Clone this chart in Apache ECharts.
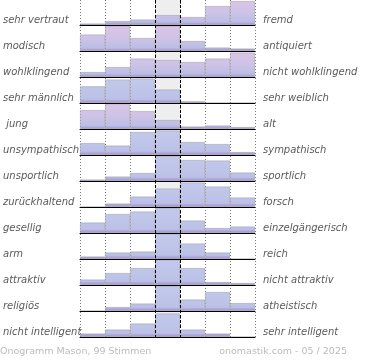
<!DOCTYPE html>
<html><head><meta charset="utf-8">
<script src="https://cdn.jsdelivr.net/npm/echarts@6/dist/echarts.min.js"></script>
<style>html,body{margin:0;padding:0;background:#fff}#c{width:370px;height:360px}</style>
</head><body><div id="c"></div>
<script>
const columns = ['1', '2', '3', '4', '5', '6', '7'];
const leftLabels = ['sehr vertraut', 'modisch', 'wohlklingend', 'sehr männlich', ' jung', 'unsympathisch', 'unsportlich', 'zurückhaltend', 'gesellig', 'arm', 'attraktiv', 'religiös', 'nicht intelligent'];
const rightLabels = ['fremd', 'antiquiert', 'nicht wohlklingend', 'sehr weiblich', 'alt', 'sympathisch', 'sportlich', 'forsch', 'einzelgängerisch', 'reich', 'nicht attraktiv', 'atheistisch', 'sehr intelligent'];

const vertraut     = [1.5, 4, 5.5, 10, 8, 19, 24];
const modisch      = [16.5, 25.5, 13, 25.5, 10, 3.5, 2.5];
const wohlklingend = [5, 10, 18.5, 17, 15, 18.5, 24.5];
const maennlich    = [16.7, 23.5, 24.5, 13.5, 1.7, 0, 0];
const jung         = [19, 25, 18, 9, 2.5, 3.5, 2];
const unsympathisch= [12, 9.5, 23, 24.5, 13, 11, 3];
const unsportlich  = [1.5, 4.5, 8, 25, 21, 20.5, 8.5];
const zurueck      = [0, 3.5, 10.5, 18.5, 24.5, 20.5, 9.5];
const gesellig     = [10.5, 19, 21.5, 25, 12.5, 5, 6.5];
const arm          = [2.5, 6.5, 7.5, 25, 15.5, 6.5, 0];
const attraktiv    = [5.5, 12, 17, 25, 17, 3, 2];
const religioes    = [0, 4, 7.5, 25, 11.5, 19, 8];
const intelligent  = [3.5, 7.5, 13.5, 23.5, 7.5, 3.5, 0];

const rows = [vertraut, modisch, wohlklingend, maennlich, jung, unsympathisch, unsportlich, zurueck, gesellig, arm, attraktiv, religioes, intelligent];
const pinkRows = [0, 1, 2, 4];

const ROW_H = 26, LEFT = 80, W = 175;
const FONT = 'DejaVu Sans';

const grids = [], xAxes = [], yAxes = [], series = [];
rows.forEach((vals, i) => {
  const top = ROW_H * i;
  grids.push({ left: LEFT, width: W, top: top, height: 25 });
  xAxes.push({
    type: 'category', gridIndex: i, data: columns, boundaryGap: true, z: 4,
    axisLine: { show: true, lineStyle: { color: '#000', width: 1 } },
    axisTick: { show: false }, axisLabel: { show: false }, splitLine: { show: false }
  });
  yAxes.push({ type: 'value', gridIndex: i, min: 0, max: 25, show: false, splitLine: { show: false } });
  const pink = pinkRows.includes(i);
  const stops = pink
    ? [{ offset: 0, color: '#dcc4e6' }, { offset: 0.5, color: '#cdc3e7' }, { offset: 0.88, color: '#bbbde5' }, { offset: 1, color: '#9d8cc9' }]
    : [{ offset: 0, color: '#c3caec' }, { offset: 0.85, color: '#bcc0e7' }, { offset: 1, color: '#9d8cc9' }];
  series.push({
    type: 'bar', xAxisIndex: i, yAxisIndex: i, data: vals, barCategoryGap: '0%', z: 2,
    itemStyle: {
      color: new echarts.graphic.LinearGradient(0, top, 0, top + 25, stops, true),
      borderColor: 'rgba(140,140,140,0.6)', borderWidth: 0.7
    },
    silent: true, animation: false
  });
});

// background grid: dotted lines, gray middle band, dashed lines
const bg = rows.length;
grids.push({ left: LEFT, width: W, top: 0, height: ROW_H * rows.length });
const transparent = 'rgba(0,0,0,0)';
xAxes.push({
  type: 'value', gridIndex: bg, min: 0, max: columns.length, interval: 1, z: 0,
  axisLine: { show: false }, axisTick: { show: false }, axisLabel: { show: false },
  splitLine: { show: true, lineStyle: { color: '#777', width: 1, type: [1, 2] } },
  splitArea: { show: true, areaStyle: { color: [transparent, transparent, transparent, '#eeeeee', transparent, transparent, transparent] } }
});
xAxes.push({
  type: 'value', gridIndex: bg, min: 0, max: columns.length, interval: 1, z: 6, position: 'top',
  axisLine: { show: false }, axisTick: { show: false }, axisLabel: { show: false },
  splitLine: { show: true, lineStyle: { color: [transparent, transparent, transparent, '#000', '#000', transparent, transparent, transparent], width: 1, type: [3, 2] } }
});
yAxes.push({ type: 'value', gridIndex: bg, min: 0, max: 1, show: false });

// label grid
const lg = rows.length + 1;
grids.push({ left: LEFT, width: W, top: 7.5, height: ROW_H * rows.length });
xAxes.push({ type: 'value', gridIndex: lg, show: false });
const labelStyle = { fontFamily: FONT, fontSize: 10, fontStyle: 'italic', color: '#5a5a5a' };
yAxes.push({
  type: 'category', gridIndex: lg, data: leftLabels, inverse: true, position: 'left',
  axisLine: { show: false }, axisTick: { show: false }, splitLine: { show: false },
  axisLabel: Object.assign({ align: 'left', margin: LEFT, interval: 0 }, labelStyle)
});
yAxes.push({
  type: 'category', gridIndex: lg, data: rightLabels, inverse: true, position: 'right',
  axisLine: { show: false }, axisTick: { show: false }, splitLine: { show: false },
  axisLabel: Object.assign({ align: 'left', margin: 8, interval: 0 }, labelStyle)
});

const chart = echarts.init(document.getElementById('c'), null, { renderer: 'canvas' });
chart.setOption({
  animation: false,
  title: [
    { text: 'Onogramm Mason, 99 Stimmen', left: 0, top: 347, padding: 0,
      textStyle: { fontFamily: FONT, fontSize: 9.5, fontWeight: 'normal', color: '#bbbbbb' } },
    { text: 'onomastik.com - 05 / 2025', right: 23, top: 347, padding: 0,
      textStyle: { fontFamily: FONT, fontSize: 9.5, fontWeight: 'normal', color: '#bbbbbb' } }
  ],
  grid: grids, xAxis: xAxes, yAxis: yAxes, series: series
});
</script></body></html>
